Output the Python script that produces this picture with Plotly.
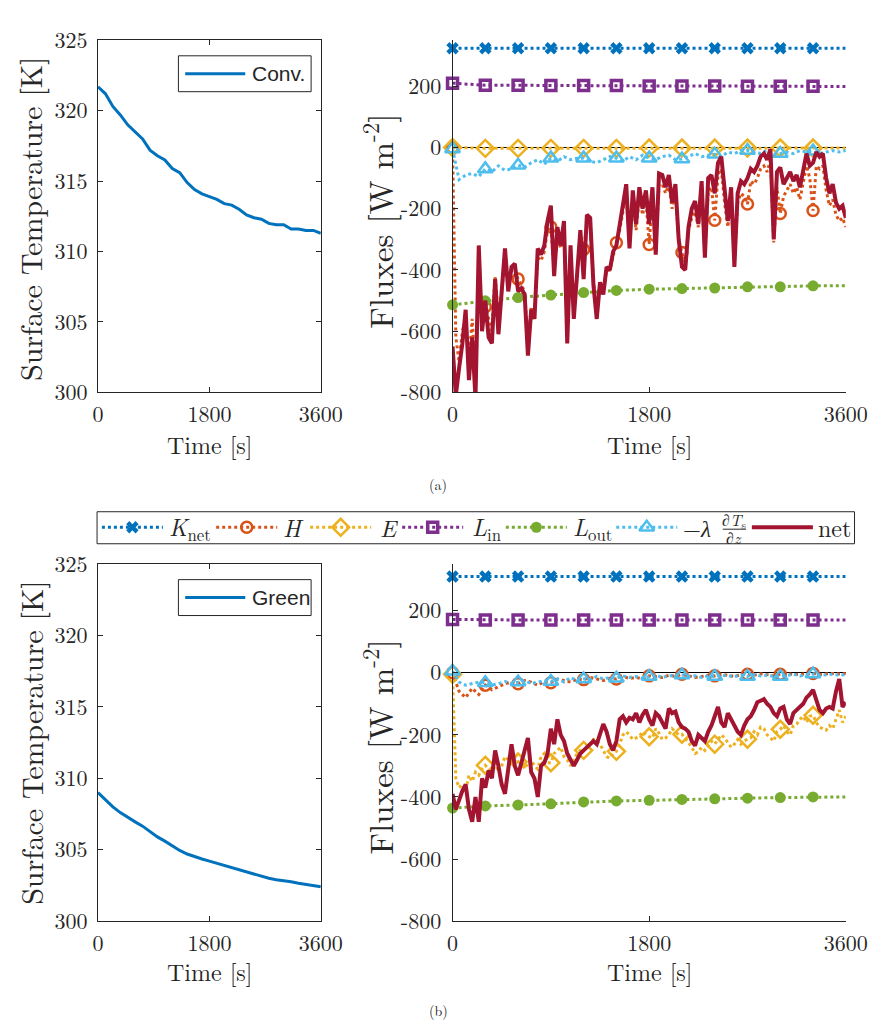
import plotly.graph_objects as go

W, H = 893, 1036
SERIF = "Latin Modern Roman, Liberation Serif, serif"
SANS = "Liberation Sans, Arial, sans-serif"
INK = "#262626"

# ---------------- data ----------------
time_T = list(range(0, 3601, 120))
temp_conv = [321.7, 321.2, 320.3, 319.7, 319.0, 318.5, 318.0, 317.2, 316.8, 316.5,
             315.9, 315.6, 314.9, 314.4, 314.1, 313.9, 313.7, 313.4, 313.3, 313.0,
             312.6, 312.4, 312.3, 312.0, 311.9, 311.9, 311.6, 311.6, 311.5, 311.5, 311.3]
temp_green = [309.0, 308.5, 308.0, 307.6, 307.25, 306.95, 306.65, 306.25, 305.9, 305.6,
              305.25, 304.95, 304.7, 304.5, 304.35, 304.2, 304.05, 303.9, 303.75, 303.55,
              303.4, 303.3, 303.15, 303.0, 302.9, 302.85, 302.75, 302.65, 302.55, 302.5, 302.4]

time_fine = list(range(0, 3601, 30))
time_mid = list(range(0, 3601, 60))
time_coarse = list(range(0, 3601, 300))

# (a) conventional surface
conv_knet = [324, 324, 324, 324, 324, 324, 324, 324, 324, 324, 324, 324, 324]
conv_lin = [210, 203, 203, 202, 202, 202, 201, 201, 201, 200, 200, 200, 199]
conv_lout = [-514, -501, -490, -482, -474, -467, -463, -461, -459, -455, -455, -452, -452]
conv_E = [0, -3, -3, -3, -3, -3, -2, -2, -2, -2, -2, -2, -2]
conv_H = [0, -620, -700, -600, -560, -700, -560, -750, -380, -560,
          -520, -560, -600, -420, -560, -470, -360, -450, -400, -400,
          -430, -450, -470, -640, -520, -540, -360, -370, -340, -270,
          -260, -400, -290, -330, -270, -600, -340, -530, -400, -300,
          -333, -250, -260, -440, -530, -440, -470, -400, -400, -360,
          -311, -270, -210, -150, -320, -170, -270, -160, -220, -170,
          -317, -160, -340, -120, -120, -150, -120, -200, -150, -300,
          -343, -390, -270, -230, -210, -260, -150, -350, -140, -130,
          -238, -90, -70, -180, -260, -170, -370, -180, -150, -160,
          -185, -110, -120, -100, -70, -60, -80, -40, -310, -130,
          -216, -160, -140, -120, -150, -130, -170, -110, -60, -100,
          -206, -60, -70, -60, -140, -190, -170, -220, -240, -230,
          -260]
conv_G = [-5, -105, -90, -85, -95,
          -70, -80, -60, -75, -70,
          -58, -65, -50, -40, -55,
          -35, -45, -30, -40, -35,
          -35, -45, -50, -40, -30,
          -35, -45, -30, -40, -25,
          -35, -40, -30, -25, -40,
          -38, -30, -20, -30, -25,
          -22, -30, -15, -20, -10,
          -10, -15, -20, -10, -25,
          -20, -15, -20, -10, -15,
          -12, -20, -15, -10, -15,
          -10]
conv_net = [-650, -810, -720, -640, -530, -760, -620, -820, -320, -600,
            -500, -620, -640, -430, -610, -480, -330, -470, -390, -380,
            -470, -460, -480, -680, -530, -560, -330, -350, -320, -240,
            -190, -420, -260, -320, -240, -640, -320, -560, -390, -270,
            -430, -220, -230, -450, -560, -440, -480, -390, -400, -340,
            -320, -250, -180, -120, -330, -140, -250, -130, -200, -140,
            -250, -130, -350, -85, -90, -130, -90, -180, -120, -300,
            -390, -400, -260, -200, -175, -250, -110, -360, -100, -90,
            -150, -50, -30, -150, -240, -130, -390, -150, -110, -120,
            -100, -70, -80, -60, -30, -20, -40, -5, -300, -80,
            -65, -120, -100, -80, -110, -90, -130, -70, -20, -60,
            -50, -15, -30, -20, -100, -150, -120, -180, -200, -190,
            -230]

# (b) green surface
green_knet = [310, 310, 310, 310, 310, 310, 310, 310, 310, 310, 310, 310, 310]
green_lin = [172, 170, 170, 170, 170, 170, 170, 170, 170, 170, 170, 170, 170]
green_lout = [-436, -429, -426, -422, -416, -413, -411, -408, -406, -404, -402, -400, -400]
green_E = [-5, -340, -370, -360, -380, -330, -350, -320, -330, -310,
           -298, -310, -330, -290, -320, -300, -270, -280, -300, -260,
           -287, -280, -310, -290, -280, -300, -310, -270, -260, -290,
           -290, -260, -250, -240, -270, -280, -300, -280, -260, -250,
           -250, -240, -230, -215, -220, -230, -250, -270, -275, -260,
           -253, -230, -200, -190, -200, -215, -210, -205, -190, -200,
           -206, -210, -180, -195, -215, -210, -200, -180, -190, -200,
           -198, -210, -225, -240, -260, -255, -240, -250, -235, -220,
           -230, -215, -200, -210, -225, -240, -230, -215, -230, -220,
           -214, -210, -190, -200, -175, -180, -200, -210, -220, -190,
           -182, -170, -190, -200, -170, -165, -150, -140, -160, -140,
           -137, -160, -175, -180, -185, -170, -180, -150, -120, -160,
           -140]
green_H = [0, -60, -80, -50, -70,
           -40, -55, -45, -35, -30,
           -35, -25, -30, -40, -28,
           -32, -20, -25, -30, -20,
           -22, -15, -20, -25, -18,
           -20, -12, -18, -15, -20,
           -10, -12, -15, -8, -12,
           -5, -10, -15, -12, -8,
           -10, -5, -8, -12, -6,
           -5, -8, -3, -6, -10,
           -5, -2, -6, -4, -3,
           -2, -5, -3, -2, -4,
           -2]
green_G = [5, -30, -40, -35, -30,
           -32, -40, -35, -28, -35,
           -30, -25, -35, -30, -25,
           -28, -20, -30, -15, -25,
           -20, -22, -12, -20, -15,
           -18, -10, -15, -12, -18,
           -12, -8, -15, -10, -8,
           -7, -12, -10, -15, -10,
           -12, -8, -10, -12, -8,
           -12, -6, -10, -8, -12,
           -12, -8, -5, -10, -6,
           -4, -8, -6, -5, -8,
           -6]
green_net = [-390, -440, -410, -380, -360, -440, -480, -400, -480, -340,
             -370, -315, -340, -250, -300, -360, -390, -300, -230, -300,
             -330, -290, -250, -210, -320, -340, -400, -300, -290, -260,
             -180, -230, -150, -200, -220, -260, -280, -300, -280, -260,
             -250, -240, -230, -220, -230, -200, -165, -190, -230, -250,
             -220, -150, -140, -160, -145, -150, -130, -160, -135, -120,
             -150, -170, -130, -140, -160, -180, -115, -130, -125, -160,
             -175, -180, -190, -220, -235, -200, -210, -220, -190, -170,
             -140, -110, -160, -175, -130, -150, -175, -190, -200, -170,
             -150, -140, -120, -95, -90, -85, -100, -110, -130, -140,
             -115, -110, -150, -165, -130, -120, -110, -100, -80, -70,
             -55, -90, -120, -130, -115, -110, -115, -60, -20, -110,
             -95]

temp_ticks = [300, 305, 310, 315, 320, 325]
flux_ticks = [-800, -600, -400, -200, 0, 200]
flux_ticklabels = ["-800", "-600", "-400", "-200", "0", "200"]
time_ticks = [0, 1800, 3600]
legend_labels = ["<i>K</i><sub>net</sub>", "<i>H</i>", "<i>E</i>", "<i>L</i><sub>in</sub>",
                 "<i>L</i><sub>out</sub>", "−<i>λ</i>", "net"]

# ---------------- styles ----------------
STYLE = {
    "knet": dict(color="#0072BD", dash="dot", lw=3, symbol="x", size=11, mlw=0),
    "H": dict(color="#D95319", dash="dot", lw=3, symbol="circle-open", size=11, mlw=2.5),
    "E": dict(color="#EDB120", dash="dot", lw=3, symbol="diamond-open", size=13, mlw=2.5),
    "lin": dict(color="#7E2F8E", dash="dot", lw=3, symbol="square-open", size=10, mlw=3.5),
    "lout": dict(color="#77AC30", dash="dot", lw=3, symbol="circle", size=11, mlw=0),
    "G": dict(color="#4DBEEE", dash="dot", lw=3, symbol="triangle-up-open", size=13, mlw=2.5),
    "net": dict(color="#A2142F", dash="solid", lw=4, symbol=None, size=0, mlw=0),
}


def marker_of(st):
    return dict(symbol=st["symbol"], size=st["size"], color=st["color"],
                line=dict(color=st["color"], width=st["mlw"]))


fig = go.Figure()


def add_series(t, v, key, xa, ya, step):
    st = STYLE[key]
    fig.add_trace(go.Scatter(x=t, y=v, mode="lines", xaxis=xa, yaxis=ya,
                             line=dict(color=st["color"], width=st["lw"], dash=st["dash"]),
                             hoverinfo="skip"))
    if st["symbol"]:
        fig.add_trace(go.Scatter(x=t[::step][:12], y=v[::step][:12], mode="markers",
                                 xaxis=xa, yaxis=ya, marker=marker_of(st),
                                 cliponaxis=False, hoverinfo="skip"))


# temperature panels
fig.add_trace(go.Scatter(x=time_T, y=temp_conv, mode="lines", xaxis="x", yaxis="y",
                         line=dict(color="#0072BD", width=3)))
fig.add_trace(go.Scatter(x=time_T, y=temp_green, mode="lines", xaxis="x3", yaxis="y3",
                         line=dict(color="#0072BD", width=3)))

# flux panels
for (xa, ya, knet, Hs, Es, lin, lout, Gs, net, E_fine) in [
        ("x2", "y2", conv_knet, conv_H, conv_E, conv_lin, conv_lout, conv_G, conv_net, False),
        ("x4", "y4", green_knet, green_H, green_E, green_lin, green_lout, green_G, green_net, True)]:
    add_series(time_coarse, knet, "knet", xa, ya, 1)
    if xa == "x2":
        add_series(time_fine, Hs, "H", xa, ya, 10)
    else:
        add_series(time_mid, Hs, "H", xa, ya, 5)
    if E_fine:
        add_series(time_fine, Es, "E", xa, ya, 10)
    else:
        add_series(time_coarse, Es, "E", xa, ya, 1)
    add_series(time_coarse, lin, "lin", xa, ya, 1)
    add_series(time_coarse, lout, "lout", xa, ya, 1)
    add_series(time_mid, Gs, "G", xa, ya, 5)
    add_series(time_fine, net, "net", xa, ya, 1)

# ---------------- legends (pixel overlay axis) ----------------
shapes = []
annotations = []


def px_text(x, y, text, size, font=SERIF, xanchor="left", angle=0, color=INK, pad=1):
    annotations.append(dict(x=x, y=y, xref="x5", yref="y5", text=text, showarrow=False,
                            xanchor=xanchor, yanchor="middle", textangle=angle, borderpad=pad,
                            font=dict(family=font, size=size, color=color)))


def px_rect(x0, y0, x1, y1):
    shapes.append(dict(type="rect", xref="x5", yref="y5", x0=x0, y0=y0, x1=x1, y1=y1,
                       line=dict(color=INK, width=1), fillcolor="white", layer="below"))


# main flux legend
LEG_Y = 526
px_rect(94, 510, 876, 543)
leg_items = [("knet", 99, 162, 167, 24), ("H", 217, 280, 285, 24), ("E", 314, 377, 385, 24),
             ("lin", 409, 472, 480, 24), ("lout", 516, 579, 584, 24), ("G", 630, 693, 698, 23),
             ("net", 770, 833, 837, 24)]
for (key, x0, x1, tx, fs), lab in zip(leg_items, legend_labels):
    st = STYLE[key]
    fig.add_trace(go.Scatter(x=[x0, x1], y=[LEG_Y, LEG_Y], mode="lines", xaxis="x5", yaxis="y5",
                             line=dict(color=st["color"], width=st["lw"], dash=st["dash"]),
                             hoverinfo="skip"))
    if st["symbol"]:
        fig.add_trace(go.Scatter(x=[(x0 + x1) / 2], y=[LEG_Y], mode="markers", xaxis="x5",
                                 yaxis="y5", marker=marker_of(st), hoverinfo="skip"))
    px_text(tx, LEG_Y, lab, fs, pad=0)
# fraction of -lambda dTs/dz
px_text(752, 518, "∂<i>T</i><sub>s</sub>", 16, xanchor="center", pad=0)
px_text(752, 537, "∂<i>z</i>", 16, xanchor="center", pad=0)
shapes.append(dict(type="line", xref="x5", yref="y5", x0=740, x1=764, y0=528, y1=528,
                   line=dict(color=INK, width=1)))

# temperature legends
for (y0, label) in [(40, "Conv."), (580, "Green")]:
    px_rect(178, y0, 315, y0 + 37)
    fig.add_trace(go.Scatter(x=[185, 247], y=[y0 + 18.5, y0 + 18.5], mode="lines", xaxis="x5",
                             yaxis="y5", line=dict(color="#0072BD", width=3), hoverinfo="skip"))
    px_text(252, y0 + 18.5, label, 21, font=SANS)

# axis titles & captions
for yc in (208, 748):
    px_text(25, yc, "Surface Temperature [K]", 30, xanchor="center", angle=-90)
for yc in (210, 752):
    px_text(384, yc, "Fluxes [W m<sup>-2</sup>]", 33, xanchor="center", angle=-90)
for (xc, yc) in [(210, 440), (664, 440), (210, 983), (664, 983)]:
    px_text(xc, yc, "Time [s]", 24, xanchor="center")
px_text(446, 481, "(a)", 14, xanchor="center")
px_text(446, 1024, "(b)", 14, xanchor="center")

# ---------------- axes ----------------
def fx(px):
    return px / W


def fy(py):
    return 1 - py / H


tickfont = dict(family=SERIF, size=22, color=INK)
common = dict(showgrid=False, ticks="inside", ticklen=5, tickcolor=INK, tickwidth=1,
              showline=True, linecolor=INK, linewidth=1, tickfont=tickfont)

xL = [fx(95), fx(325)]
xR = [fx(461), fx(867)]
yT = [fy(387), fy(24)]
yB = [fy(932), fy(564)]

layout_axes = {}
for i, (xd, yd, kind) in enumerate([(xL, yT, "T"), (xR, yT, "F"), (xL, yB, "T"), (xR, yB, "F")], 1):
    xn = "xaxis" if i == 1 else f"xaxis{i}"
    yn = "yaxis" if i == 1 else f"yaxis{i}"
    xa = "x" if i == 1 else f"x{i}"
    ya = "y" if i == 1 else f"y{i}"
    mirror = "ticks" if kind == "T" else False
    layout_axes[xn] = dict(domain=xd, anchor=ya, range=[0, 3600], tickvals=time_ticks,
                           zeroline=False, mirror=mirror, ticklabelstandoff=2, **common)
    if kind == "T":
        layout_axes[yn] = dict(domain=yd, anchor=xa, range=[300, 325], tickvals=temp_ticks,
                               zeroline=False, mirror=mirror, ticklabelstandoff=5, **common)
    else:
        layout_axes[yn] = dict(domain=yd, anchor=xa, range=[-800, 350], tickvals=flux_ticks,
                               ticktext=flux_ticklabels, zeroline=True, zerolinecolor="black",
                               zerolinewidth=1, mirror=False, ticklabelstandoff=6, **common)

layout_axes["xaxis5"] = dict(domain=[0, 1], anchor="y5", range=[0, W], visible=False, fixedrange=True)
layout_axes["yaxis5"] = dict(domain=[0, 1], anchor="x5", range=[H, 0], visible=False, fixedrange=True)

fig.update_layout(width=W, height=H, margin=dict(l=0, r=0, t=0, b=0),
                  paper_bgcolor="white", plot_bgcolor="rgba(0,0,0,0)",
                  showlegend=False, shapes=shapes, annotations=annotations,
                  font=dict(family=SERIF, color=INK), **layout_axes)

fig.write_html("out.html")
